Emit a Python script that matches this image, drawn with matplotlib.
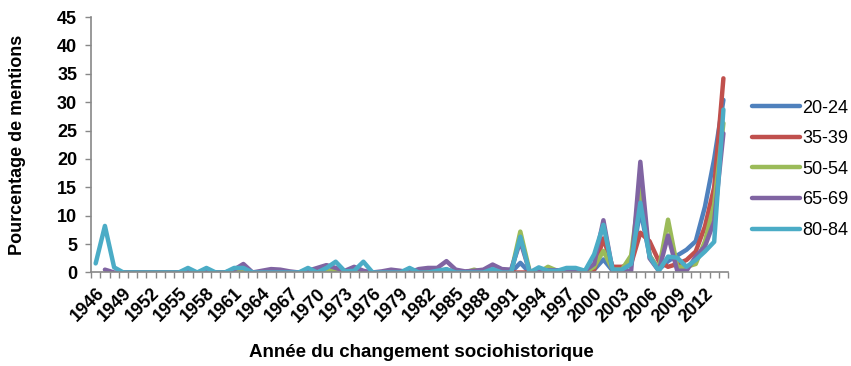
import numpy as np
import matplotlib.pyplot as plt

nan = np.nan

# Années 1946 -> 2014 (axe de catégories)
years = list(range(1946, 2015))

# Pourcentage de mentions par groupe d'âge
pct_20_24 = [nan, nan, nan, 0, 0, 0, 0, 0, 0, 0,          # 1946-1955
             0, 0, 0, 0, 0, 0, 0, 0, 0, 0,                # 1956-1965
             0, 0, 0, 0, 0, 0, 0, 0, 0, 0,                # 1966-1975
             0, 0, 0, 0, 0, 0, 0, 0, 0, 0,                # 1976-1985
             0, 0, 0, 0, 0, 0, 1.7, 0, 0, 0,              # 1986-1995
             0, 0, 0, 0, 0.5, 2.3, 0.3, 0.3, 1.5, 11.0,   # 1996-2005
             3.0, 0.5, 2.0, 3.0, 4.0, 5.5, 11.6, 20.0, 30.4]  # 2006-2014

pct_35_39 = [nan, nan, nan, 0, 0, 0, 0, 0, 0, 0,
             0, 0, 0, 0, 0, 0, 0, 0, 0, 0,
             0, 0, 0, 0, 0, 0, 0, 0.2, 0, 0,
             0, 0, 0, 0, 0, 0, 0, 0, 0.5, 0,
             0, 0, 0, 0, 0, 0, 0, 0, 0, 0,
             0, 0, 0, 0, 0.5, 6.0, 1.0, 1.0, 1.5, 7.0,
             5.5, 2.0, 1.0, 1.5, 2.2, 3.7, 8.1, 15.0, 34.2]

pct_50_54 = [nan, nan, nan, 0, 0, 0, 0, 0, 0, 0,
             0, 0, 0, 0, 0, 0, 0, 0, 0, 0,
             0, 0, 0, 0, 0, 0.2, 0.6, 0, 0, 0,
             0, 0, 0, 0, 0, 0, 0, 0, 0, 0.3,
             0, 0.5, 0, 0, 0, 0, 7.2, 0.3, 0, 1.0,
             0.3, 0, 0, 0, 1.0, 3.8, 0.5, 0.5, 3.0, 15.5,
             3.0, 0.5, 9.3, 1.0, 1.0, 1.5, 5.5, 12.0, 26.3]

pct_65_69 = [nan, 0.5, 0, 0, 0, 0, 0, 0, 0, 0,
             0.3, 0, 0.3, 0, 0, 0.5, 1.5, 0, 0.3, 0.6,
             0.5, 0.2, 0, 0.3, 0.8, 1.3, 0.8, 0.3, 1.0, 0.3,
             0, 0.2, 0.5, 0.3, 0, 0.6, 0.8, 0.8, 2.0, 0.5,
             0.2, 0.3, 0.5, 1.4, 0.6, 0.5, 5.5, 0.2, 0.3, 0.4,
             0.4, 0.3, 0.2, 0.3, 1.5, 9.2, 0.3, 0.3, 0.2, 19.5,
             2.5, 0.3, 6.5, 0.3, 0.3, 2.8, 4.6, 9.0, 24.5]

pct_80_84 = [1.6, 8.2, 0.9, 0, 0, 0, 0, 0, 0, 0,
             0.8, 0, 0.8, 0, 0, 0.8, 0.8, 0, 0, 0,
             0, 0, 0, 0.8, 0, 0.8, 1.9, 0.2, 0.3, 1.9,
             0, 0, 0, 0, 0.8, 0, 0, 0.3, 0.6, 0,
             0, 0, 0, 0.6, 0, 0, 6.3, 0, 0.9, 0.3,
             0.3, 0.8, 0.8, 0.3, 3.2, 8.4, 0.5, 0.5, 1.5, 12.3,
             2.8, 0.3, 2.8, 2.6, 1.0, 2.2, 3.7, 5.4, 28.7]

labels = ['20-24', '35-39', '50-54', '65-69', '80-84']
colors = ['#4F81BD', '#C0504D', '#9BBB59', '#8064A2', '#4BACC6']
series = [pct_20_24, pct_35_39, pct_50_54, pct_65_69, pct_80_84]

plt.rcParams['font.family'] = ['Liberation Sans', 'DejaVu Sans']

fig = plt.figure(figsize=(8.51, 3.66), dpi=100)
ax = fig.add_axes([0.107, 0.2555, 0.7485, 0.698])

x = np.arange(len(years))
for vals, lab, col in zip(series, labels, colors):
    ax.plot(x, vals, color=col, linewidth=3.2, label=lab,
            solid_joinstyle='round', solid_capstyle='round')

ax.set_xlim(-0.5, len(years) - 0.5)
ax.set_ylim(0, 45)
ax.set_yticks(np.arange(0, 46, 5))

# étiquettes tous les 3 ans, graduations entre les catégories
ax.set_xticks(x[::3])
ax.set_xticklabels([str(y) for y in years[::3]], rotation=45, ha='right',
                   rotation_mode='anchor', fontsize=13, fontweight='bold')
ax.set_xticks(np.arange(-0.5, len(years), 1), minor=True)
ax.tick_params(axis='x', which='major', length=0, pad=9)
ax.tick_params(axis='x', which='minor', length=4, color='#888888', width=1)
ax.tick_params(axis='y', length=4, color='#888888', width=1, pad=6,
               labelsize=13)
for t in ax.get_yticklabels():
    t.set_fontweight('bold')

for s in ['top', 'right']:
    ax.spines[s].set_visible(False)
for s in ['left', 'bottom']:
    ax.spines[s].set_color('#888888')
    ax.spines[s].set_linewidth(1.2)

ax.set_ylabel('Pourcentage de mentions', fontsize=13, fontweight='bold')
ax.yaxis.set_label_coords(-0.102, 0.5)
fig.text(0.495, 0.038, 'Année du changement sociohistorique', ha='center',
         va='center', fontsize=13.5, fontweight='bold')

fig.legend(loc='upper left', bbox_to_anchor=(0.864, 0.772), frameon=False,
           fontsize=13, handlelength=2.7, handletextpad=0.1,
           labelspacing=0.75)

fig.savefig('out.png', dpi=100)
